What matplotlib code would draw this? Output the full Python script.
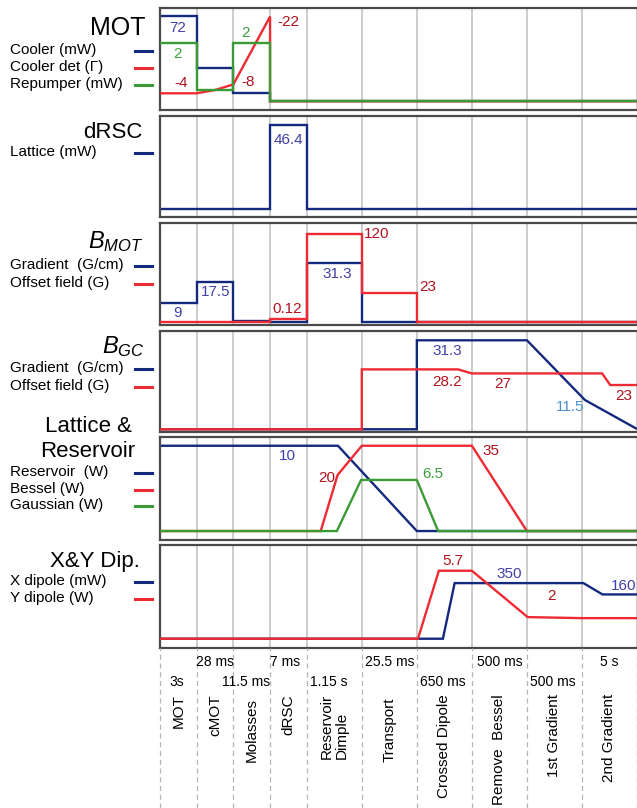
import numpy as np
import matplotlib
matplotlib.use('Agg')
import matplotlib.pyplot as plt
from matplotlib.lines import Line2D

plt.rcParams['font.family'] = ['Liberation Sans', 'DejaVu Sans']
plt.rcParams['mathtext.fontset'] = 'custom'
plt.rcParams['mathtext.it'] = 'Liberation Sans:italic'
plt.rcParams['mathtext.rm'] = 'Liberation Sans'

# ---------------- data ----------------
stage_names = ['MOT', 'cMOT', 'Molasses', 'dRSC', 'Reservoir\nDimple', 'Transport',
               'Crossed Dipole', 'Remove  Bessel', '1st Gradient', '2nd Gradient']
stage_widths = [1, 1, 1, 1, 1.5, 1.5, 1.5, 1.5, 1.5, 1.5]
stage_durations = ['3s', '28 ms', '11.5 ms', '7 ms', '1.15 s', '25.5 ms',
                   '650 ms', '500 ms', '500 ms', '5 s']

# MOT panel (normalised levels)
mot_cooler_x = [0, 1, 1, 2, 2, 3, 3, 13]
mot_cooler_y = [0.92, 0.92, 0.41, 0.41, 0.163, 0.163, 0.085, 0.085]
mot_det_x = [0, 1, 1.5, 2, 3, 3, 13]
mot_det_y = [0.163, 0.163, 0.195, 0.25, 0.912, 0.085, 0.085]
mot_rep_x = [0, 1, 1, 2, 2, 3, 3, 13]
mot_rep_y = [0.657, 0.657, 0.195, 0.195, 0.657, 0.657, 0.085, 0.085]

# dRSC panel
drsc_lat_x = [0, 3, 3, 4, 4, 13]
drsc_lat_y = [0.08, 0.08, 0.915, 0.915, 0.08, 0.08]

# B_MOT panel
bmot_grad_x = [0, 1, 1, 2, 2, 3, 3, 4, 4, 5.5, 5.5, 13]
bmot_grad_y = [0.219, 0.219, 0.418, 0.418, 0.035, 0.035, 0.026, 0.026, 0.605, 0.605, 0.033, 0.033]
bmot_off_x = [0, 3, 3, 4, 4, 5.5, 5.5, 7, 7, 13]
bmot_off_y = [0.033, 0.033, 0.062, 0.062, 0.892, 0.892, 0.317, 0.317, 0.033, 0.033]

# B_GC panel
bgc_grad_x = [0, 7, 7, 10, 11.58, 13]
bgc_grad_y = [0.027, 0.027, 0.908, 0.908, 0.317, 0.03]
bgc_off_x = [0, 5.5, 5.5, 8.12, 8.5, 12.05, 12.27, 13]
bgc_off_y = [0.027, 0.027, 0.62, 0.62, 0.58, 0.58, 0.465, 0.465]

# Lattice & Reservoir panel
lr_res_x = [0, 4.85, 7, 13]
lr_res_y = [0.915, 0.915, 0.087, 0.087]
lr_bes_x = [0, 4.38, 4.84, 5.5, 8.5, 10, 13]
lr_bes_y = [0.087, 0.087, 0.631, 0.915, 0.915, 0.087, 0.087]
lr_gau_x = [0, 4.82, 5.48, 7, 7.58, 13]
lr_gau_y = [0.087, 0.087, 0.583, 0.583, 0.087, 0.087]

# X&Y dipole panel
dip_x_x = [0, 7.71, 8.03, 11.54, 12.06, 13]
dip_x_y = [0.09, 0.09, 0.63, 0.63, 0.52, 0.52]
dip_y_x = [0, 7.03, 7.6, 8.5, 10.02, 11.5, 13]
dip_y_y = [0.09, 0.09, 0.75, 0.75, 0.30, 0.29, 0.29]

# ---------------- style ----------------
BLUE = '#13297e'
RED = '#ee2a33'
GREEN = '#3a9b35'
TBLUE = '#4040a8'
TRED = '#b0121d'
TGREEN = '#3aa03a'
TLBLUE = '#4b8fcb'
GRID = '#c8c8c8'
FRAME = '#4a4a4a'
LW = 1.7

W, H = 637, 808
fig = plt.figure(figsize=(W / 100, H / 100), dpi=100)


def fx(px):
    return px / W


def fy(py):
    return 1 - py / H


stage_bounds = np.concatenate([[0], np.cumsum(stage_widths)])
stage_centers = (stage_bounds[:-1] + stage_bounds[1:]) / 2
XL, XR = 160, 637

panel_px = [(7.5, 110), (116, 217), (223, 325), (331, 432), (437, 540), (545, 648)]
axes = []
for (t, b) in panel_px:
    ax = fig.add_axes([fx(XL), fy(b), fx(XR) - fx(XL), (b - t) / H])
    ax.set_xlim(stage_bounds[0], stage_bounds[-1])
    ax.set_ylim(0, 1)
    ax.set_xticks([])
    ax.set_yticks([])
    for s in ['top', 'bottom', 'left']:
        ax.spines[s].set_color(FRAME)
        ax.spines[s].set_linewidth(1.6)
    ax.spines['right'].set_visible(False)
    for xb in stage_bounds[1:]:
        ax.axvline(xb, color=GRID, lw=1.3, zorder=0)
    axes.append(ax)


def line(ax, x, y, c, z=2):
    ax.plot(x, y, color=c, lw=LW, zorder=z, solid_joinstyle='miter', solid_capstyle='butt')


line(axes[0], mot_cooler_x, mot_cooler_y, BLUE, 2)
line(axes[0], mot_det_x, mot_det_y, RED, 3)
line(axes[0], mot_rep_x, mot_rep_y, GREEN, 4)

line(axes[1], drsc_lat_x, drsc_lat_y, BLUE)

line(axes[2], bmot_grad_x, bmot_grad_y, BLUE, 2)
line(axes[2], bmot_off_x, bmot_off_y, RED, 3)

line(axes[3], bgc_grad_x, bgc_grad_y, BLUE, 2)
line(axes[3], bgc_off_x, bgc_off_y, RED, 3)

line(axes[4], lr_res_x, lr_res_y, BLUE, 2)
line(axes[4], lr_bes_x, lr_bes_y, RED, 3)
line(axes[4], lr_gau_x, lr_gau_y, GREEN, 4)

line(axes[5], dip_x_x, dip_x_y, BLUE, 2)
line(axes[5], dip_y_x, dip_y_y, RED, 3)

# ---------------- titles ----------------
fig.text(fx(146), fy(35), 'MOT', ha='right', va='baseline', fontsize=18)
fig.text(fx(143), fy(138), 'dRSC', ha='right', va='baseline', fontsize=16)
fig.text(fx(143), fy(248), r'$B_{MOT}$', ha='right', va='baseline', fontsize=17)
fig.text(fx(145), fy(353), r'$B_{GC}$', ha='right', va='baseline', fontsize=17)
fig.text(fx(88), fy(432), 'Lattice &', ha='center', va='baseline', fontsize=16)
fig.text(fx(88), fy(457), 'Reservoir', ha='center', va='baseline', fontsize=16)
fig.text(fx(140), fy(567), 'X&Y Dip.', ha='right', va='baseline', fontsize=16)

# ---------------- legends ----------------
legend_items = [
    ('Cooler (mW)', 50, BLUE), ('Cooler det (Γ)', 67, RED), ('Repumper (mW)', 84, GREEN),
    ('Lattice (mW)', 152, BLUE),
    ('Gradient  (G/cm)', 265, BLUE), ('Offset field (G)', 283, RED),
    ('Gradient  (G/cm)', 368, BLUE), ('Offset field (G)', 386, RED),
    ('Reservoir  (W)', 472, BLUE), ('Bessel (W)', 489, RED), ('Gaussian (W)', 505, GREEN),
    ('X dipole (mW)', 581, BLUE), ('Y dipole (W)', 598, RED),
]
for lab, py, c in legend_items:
    fig.text(fx(10), fy(py), lab, ha='left', va='center', fontsize=11)
    fig.add_artist(Line2D([fx(135), fx(152)], [fy(py + 1), fy(py + 1)],
                          transform=fig.transFigure, color=c, lw=2.2))

# ---------------- value annotations ----------------
annots = [
    ('72', 178, 28, TBLUE), ('2', 178, 54, TGREEN), ('-4', 181, 83, TRED),
    ('2', 245.5, 33, TGREEN), ('-8', 248, 82, TRED), ('-22', 288, 22, TRED),
    ('46.4', 288, 140.5, TBLUE),
    ('9', 178, 313, TBLUE), ('17.5', 216, 292, TBLUE), ('0.12', 287, 309, TRED),
    ('31.3', 337, 273.5, TBLUE), ('120', 377, 234, TRED), ('23', 428, 287, TRED),
    ('31.3', 447.5, 351, TBLUE), ('28.2', 447.5, 382, TRED), ('27', 502.5, 384, TRED),
    ('11.5', 570, 407, TLBLUE), ('23', 624, 395.5, TRED),
    ('10', 287, 456, TBLUE), ('20', 327, 477.5, TRED), ('6.5', 433, 474, TGREEN),
    ('35', 490.5, 451, TRED),
    ('5.7', 452.5, 561, TRED), ('350', 509, 573.5, TBLUE), ('2', 552, 596, TRED),
    ('160', 623.5, 585.5, TBLUE),
]
for txt, px, py, c in annots:
    fig.text(fx(px), fy(py), txt, ha='center', va='center', fontsize=11, color=c)

# ---------------- bottom stage section ----------------
axb = fig.add_axes([fx(XL), 0, fx(XR) - fx(XL), fy(648)])
axb.set_xlim(stage_bounds[0], stage_bounds[-1])
axb.set_ylim(808, 648)
axb.axis('off')
for xb in stage_bounds:
    axb.axvline(xb, color='#b4b4b4', lw=0.9, ls=(0, (4, 3)), zorder=0, clip_on=False)

px_per_unit = (XR - XL) / stage_bounds[-1]
dur_dx = [-2, 0, -6, -3, -6, 0, -2, 0, -2, 0]
for i, (name, dur) in enumerate(zip(stage_names, stage_durations)):
    xc = stage_centers[i]
    row_y = 682 if i % 2 == 0 else 662
    axb.text(xc + dur_dx[i] / px_per_unit, row_y, dur, ha='center', va='center', fontsize=10)
    top_y = 698 if name in ('Molasses', 'Transport') else 694
    axb.text(xc, top_y, name, rotation=90, ha='center', va='top', fontsize=11,
             multialignment='left', linespacing=1.05)

fig.savefig('out.png', dpi=100)
